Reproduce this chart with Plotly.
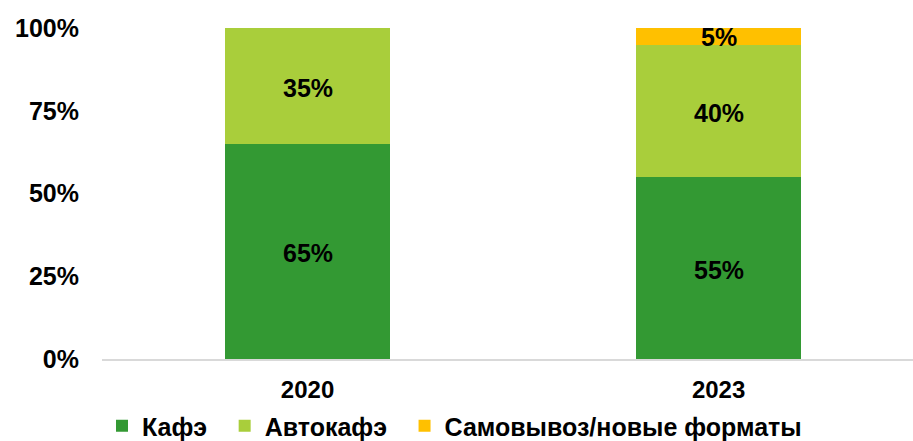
import plotly.graph_objects as go

years = ["2020", "2023"]
series_names = ["Кафэ", "Автокафэ", "Самовывоз/новые форматы"]
kafe = [65, 55]
avtokafe = [35, 40]
samovyvoz = [0, 5]
colors = ["#339933", "#A9CE3B", "#FFC000"]
y_ticks = [0, 25, 50, 75, 100]

values = [kafe, avtokafe, samovyvoz]
font_family = "Liberation Sans, Arial, sans-serif"

fig = go.Figure()
base = [0] * len(years)
for name, vals, col in zip(series_names, values, colors):
    fig.add_trace(go.Bar(
        x=years, y=vals, name=f"<b>{name}</b>\u2002", marker_color=col, marker_line_width=0,
        width=0.4, hoverinfo="skip",
    ))
    for i, (b, v) in enumerate(zip(base, vals)):
        if v > 0:
            fig.add_annotation(x=i, y=b + v / 2, text=f"<b>{v}%</b>", showarrow=False,
                               xref="x", yref="y", yshift=-2 if v > 10 else -1,
                               font=dict(family=font_family, size=25, color="black"))
    base = [b + v for b, v in zip(base, vals)]

fig.update_layout(
    barmode="stack",
    width=913, height=441,
    margin=dict(l=102, r=0, t=28, b=82, autoexpand=False),
    plot_bgcolor="white", paper_bgcolor="white",
    showlegend=True,
    legend=dict(orientation="h", xref="container", yref="container",
                x=102 / 913, xanchor="left", y=(441 - 426) / 441, yanchor="middle",
                font=dict(family=font_family, size=25, color="black"),
                itemwidth=30, traceorder="normal"),
    font=dict(family=font_family, color="black"),
)
fig.update_xaxes(type="category", range=[-0.5, 1.473], showline=True, linecolor="#D9D9D9",
                 linewidth=2, ticks="", tickfont=dict(family=font_family, size=24, color="black"),
                 tickvals=years, ticktext=[f"<b>{y}</b>" for y in years], ticklabelstandoff=8)
fig.update_yaxes(range=[0, 100], tickvals=y_ticks, ticktext=[f"<b>{t}%</b>" for t in y_ticks],
                 showgrid=False, zeroline=False, showline=False, ticklabelstandoff=22,
                 tickfont=dict(family=font_family, size=25, color="black"))

fig.write_html("out.html")
